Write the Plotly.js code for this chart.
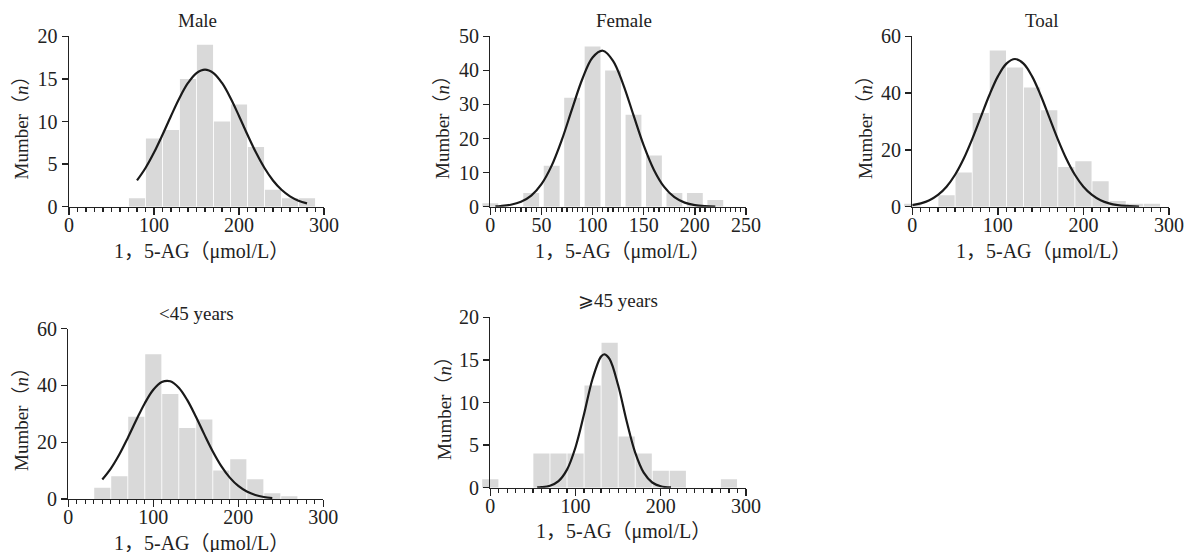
<!DOCTYPE html>
<html><head><meta charset="utf-8">
<script src="https://cdn.plot.ly/plotly-3.0.1.min.js"></script>
<style>html,body{margin:0;padding:0;background:#fff}#chart{width:1187px;height:552px}</style>
</head><body><div id="chart"></div>
<script>
// ---------- data ----------
const panelTitles = ['Male', 'Female', 'Toal', '<45 years', '⩾45 years'];
const xTitle = '1，5-AG（μmol/L）';
const yTitle = 'Mumber（<i>n</i>）';

// histogram bin centres and counts
const maleBins = [80, 100, 120, 140, 160, 180, 200, 220, 240, 260, 280];
const maleCounts = [1, 8, 9, 15, 19, 10, 12, 7, 2, 1, 1];
const femaleBins = [0, 40, 60, 80, 100, 120, 140, 160, 180, 200, 220];
const femaleCounts = [1, 4, 12, 32, 47, 40, 27, 15, 4, 4, 2];
const totalBins = [0, 40, 60, 80, 100, 120, 140, 160, 180, 200, 220, 240, 260, 280];
const totalCounts = [1, 4, 12, 33, 55, 49, 42, 34, 14, 16, 9, 2, 1, 1];
const youngBins = [40, 60, 80, 100, 120, 140, 160, 180, 200, 220, 240, 260];
const youngCounts = [4, 8, 29, 51, 37, 25, 28, 10, 14, 7, 2, 1];
const oldBins = [0, 60, 80, 100, 120, 140, 160, 180, 200, 220, 280];
const oldCounts = [1, 4, 4, 4, 12, 17, 6, 4, 2, 2, 1];

// fitted curves
const maleCurveX = [80, 90, 100, 110, 120, 130, 140, 150, 160, 170, 180, 190, 200, 210, 220, 230, 240, 250, 260, 270, 280];
const maleCurveY = [3.08, 4.54, 6.35, 8.44, 10.65, 12.76, 14.52, 15.69, 16.1, 15.69, 14.52, 12.76, 10.65, 8.44, 6.35, 4.54, 3.08, 1.99, 1.22, 0.71, 0.39];
const femaleCurveX = [5, 10, 20, 30, 40, 50, 60, 70, 80, 90, 100, 110, 120, 130, 140, 150, 160, 170, 180, 190, 200, 210, 220];
const femaleCurveY = [0.11, 0.2, 0.56, 1.43, 3.25, 6.62, 12.06, 19.67, 28.71, 37.48, 43.78, 45.77, 42.82, 35.85, 26.85, 18.0, 10.8, 5.8, 2.78, 1.2, 0.46, 0.16, 0.05];
const totalCurveX = [0, 10, 20, 30, 40, 50, 60, 70, 80, 90, 100, 110, 120, 130, 140, 150, 160, 170, 180, 190, 200, 210, 220, 230, 240, 250, 260, 265];
const totalCurveY = [0.58, 1.19, 2.28, 4.14, 7.04, 11.25, 16.88, 23.81, 31.54, 39.25, 45.89, 50.4, 52, 50.4, 45.89, 39.25, 31.54, 23.81, 16.88, 11.25, 7.04, 4.14, 2.28, 1.19, 0.58, 0.26, 0.11, 0.07];
const youngCurveX = [40, 50, 60, 70, 80, 90, 100, 110, 120, 130, 140, 150, 160, 170, 180, 190, 200, 210, 220, 230, 240];
const youngCurveY = [6.86, 10.69, 15.65, 21.53, 27.81, 33.76, 38.49, 41.23, 41.49, 39.22, 34.83, 29.06, 22.77, 16.76, 11.59, 7.54, 4.6, 2.64, 1.42, 0.72, 0.34];
const oldCurveX = [55, 60, 70, 80, 90, 100, 110, 120, 130, 134, 140, 150, 160, 170, 180, 190, 200, 212];
const oldCurveY = [0.03, 0.06, 0.23, 0.77, 2.12, 4.75, 8.64, 12.79, 15.4, 15.66, 15.09, 12.02, 7.79, 4.11, 1.76, 0.61, 0.17, 0.03];

// axis settings
const xMax = [300, 250, 300, 300, 300];
const xMajor = [100, 50, 100, 100, 100];
const xMinor = [10, 5, 10, 10, 10];
const yMax = [20, 50, 60, 60, 20];
const yStep = [5, 10, 20, 20, 5];

// ---------- layout (pixel boxes of each plot area) ----------
const W = 1187, H = 552;
const boxes = [ // left, right, top, bottom in px
  [69, 324, 36.3, 206.7],
  [490.3, 746, 36.3, 206.7],
  [912.3, 1169, 36.3, 206.7],
  [68.3, 323.3, 328.7, 499],
  [490.3, 746, 317.3, 487.7]
];
const titlePos = [[197, 20.5], [624, 20.5], [1042, 20.5], [196, 313.5], [618, 300.5]];
const xTitlePos = [[201, 251], [622, 251], [1043, 251], [201, 543], [623, 531]];
const yTitlePos = [[20.5, 123], [442, 123], [865, 123], [21, 415], [444, 404]];

const binsAll = [maleBins, femaleBins, totalBins, youngBins, oldBins];
const countsAll = [maleCounts, femaleCounts, totalCounts, youngCounts, oldCounts];
const curveXAll = [maleCurveX, femaleCurveX, totalCurveX, youngCurveX, oldCurveX];
const curveYAll = [maleCurveY, femaleCurveY, totalCurveY, youngCurveY, oldCurveY];
const barWidths = [19, 15.5, 19, 19, 19];
const LEFT_PAD = 10; // data units of room left of 0 for the bars (they overhang the y axis)

const FONT = 'Liberation Serif, "Times New Roman", "Noto Sans CJK KR", "Noto Sans CJK SC", serif';
const INK = '#222222';
const px = v => v / W, py = v => 1 - v / H;

const traces = [];
const layout = {
  width: W, height: H,
  margin: {l: 0, r: 0, t: 0, b: 0},
  paper_bgcolor: '#ffffff', plot_bgcolor: 'rgba(0,0,0,0)',
  showlegend: false,
  font: {family: FONT, size: 20, color: INK},
  annotations: []
};

for (let i = 0; i < 5; i++) {
  const nb = i === 0 ? '' : String(i + 1);   // hidden axis for bars (drawn first)
  const nv = String(i + 6);                  // visible axis (drawn on top)
  const xb = 'x' + nb, xv = 'x' + nv, ya = 'y' + nb;
  const b = boxes[i];
  const scale = (b[1] - b[0]) / xMax[i];
  traces.push({
    type: 'bar', x: binsAll[i], y: countsAll[i], width: barWidths[i],
    xaxis: xb, yaxis: ya,
    marker: {color: '#d9d9d9', line: {width: 0}}, hoverinfo: 'x+y'
  });
  traces.push({
    type: 'scatter', mode: 'lines', x: curveXAll[i], y: curveYAll[i],
    xaxis: xv, yaxis: ya, cliponaxis: false,
    line: {color: '#1a1a1a', width: 2.2, shape: 'spline', smoothing: 1}
  });
  layout['xaxis' + nb] = {
    domain: [px(b[0] - LEFT_PAD * scale), px(b[1])], anchor: ya,
    range: [-LEFT_PAD, xMax[i]], visible: false, fixedrange: true
  };
  layout['xaxis' + nv] = {
    domain: [px(b[0]), px(b[1])], anchor: ya,
    range: [0, xMax[i]], tick0: 0, dtick: xMajor[i],
    showline: true, linecolor: INK, linewidth: 1.4,
    ticks: 'outside', ticklen: 7, tickwidth: 1.4, tickcolor: INK,
    ticklabelstandoff: -7,
    minor: {dtick: xMinor[i], tick0: 0, ticks: 'outside', ticklen: 4, tickwidth: 1.2, tickcolor: INK, showgrid: false},
    showgrid: false, zeroline: false, fixedrange: true,
    tickfont: {family: FONT, size: 20, color: INK}
  };
  layout['yaxis' + nb] = {
    domain: [py(b[3]), py(b[2])], anchor: xv,
    range: [0, yMax[i]], tick0: 0, dtick: yStep[i],
    showline: true, linecolor: INK, linewidth: 1.4,
    ticks: 'outside', ticklen: 6, tickwidth: 1.4, tickcolor: INK,
    showgrid: false, zeroline: false, fixedrange: true,
    tickfont: {family: FONT, size: 20, color: INK}
  };
  layout.annotations.push({
    text: panelTitles[i], xref: 'paper', yref: 'paper',
    x: px(titlePos[i][0]), y: py(titlePos[i][1]), xanchor: 'center', yanchor: 'middle',
    showarrow: false, font: {family: FONT, size: 19, color: INK}
  });
  layout.annotations.push({
    text: xTitle, xref: 'paper', yref: 'paper',
    x: px(xTitlePos[i][0]), y: py(xTitlePos[i][1]), xanchor: 'center', yanchor: 'middle',
    showarrow: false, font: {family: FONT, size: 20, color: INK}
  });
  layout.annotations.push({
    text: yTitle, xref: 'paper', yref: 'paper', textangle: -90,
    x: px(yTitlePos[i][0]), y: py(yTitlePos[i][1]), xanchor: 'center', yanchor: 'middle',
    showarrow: false, font: {family: FONT, size: 19, color: INK}
  });
}

Plotly.newPlot('chart', traces, layout, {displayModeBar: false, staticPlot: true});
</script>
</body></html>
